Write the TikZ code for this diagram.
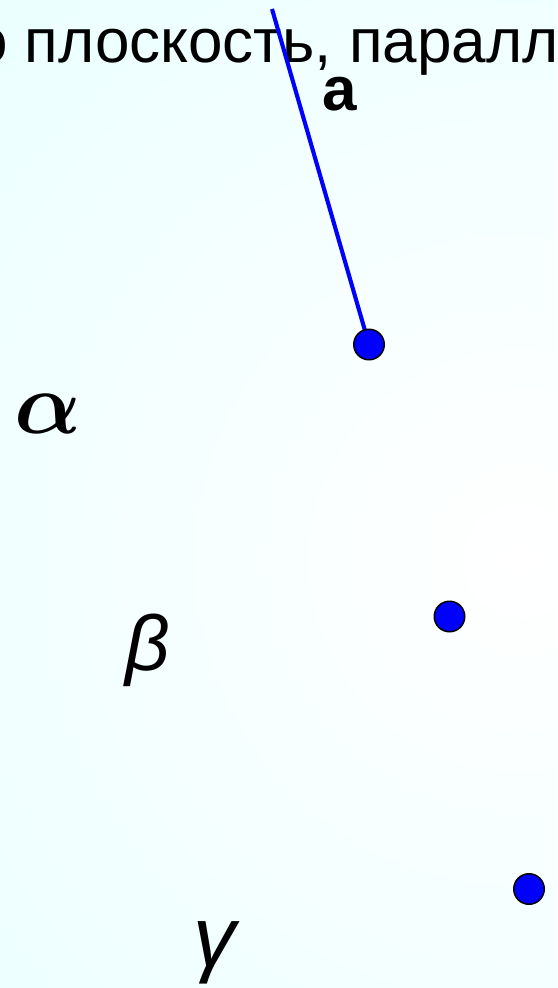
\documentclass[tikz,border=0pt]{standalone}
\usepackage{fontspec}
\newfontfamily\arial{Liberation Sans}
\tikzset{
  pt/.style={circle, draw=black, line width=1.5pt, fill={rgb,255:red,0;green,0;blue,255}, minimum size=30.5pt, inner sep=0pt},
  seg/.style={draw={rgb,255:red,0;green,0;blue,255}, line width=4.1pt},
  lbl/.style={inner sep=0pt, outer sep=0pt, anchor=base west, text=black},
}
\begin{document}
\begin{tikzpicture}[x=1pt,y=-1pt]
\useasboundingbox (0,0) rectangle (557,988);
\begin{scope}
\clip (0,0) rectangle (557,988);
\shade[inner color=white, outer color={rgb,255:red,218;green,255;blue,255}] (520,560) circle (1420);
\node[lbl, font=\arial\fontsize{62}{74}\selectfont] (title) at (-27,62) {о плоскость, паралл};
\end{scope}
\coordinate (atop) at (272,9);
\coordinate (c1) at (369,344.5);
\coordinate (c2) at (449.5,616.5);
\coordinate (c3) at (529,889);
\draw[seg] (atop) -- (c1);
\node[pt] (p1) at (c1) {};
\node[pt] (p2) at (c2) {};
\node[pt] (p3) at (c3) {};
\node[lbl, font=\arial\bfseries\fontsize{62}{74}\selectfont] (la) at (322,110) {a};
\node[lbl, font=\boldmath, scale=8.8] (lalpha) at (14,433) {$\alpha$};
\node[lbl, font=\arial\itshape\fontsize{78}{90}\selectfont] (lbeta) at (125,670) {β};
\node[lbl, font=\arial\itshape\fontsize{85}{100}\selectfont] (lgamma) at (193,966) {γ};
\end{tikzpicture}
\end{document}
